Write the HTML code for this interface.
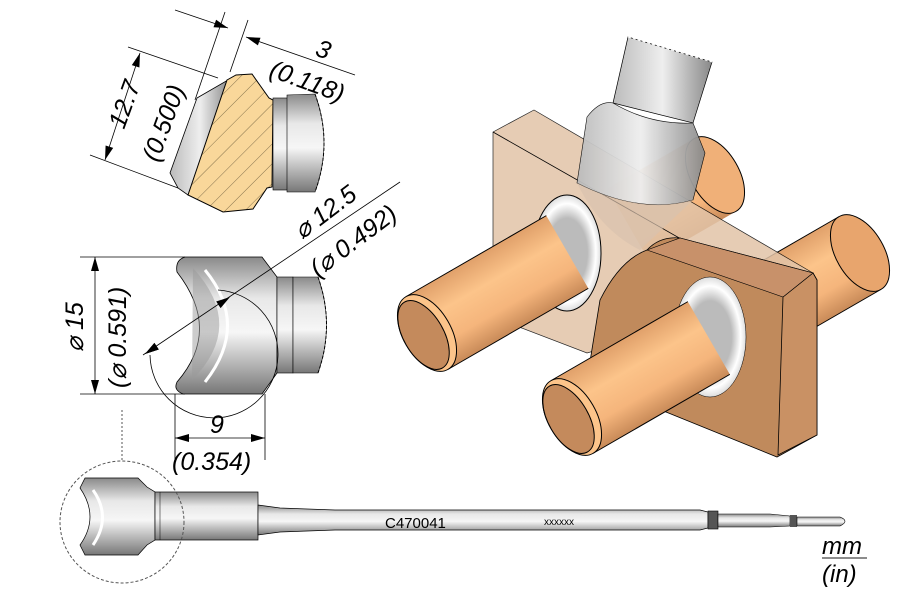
<!DOCTYPE html>
<html><head><meta charset="utf-8"><style>
html,body{margin:0;padding:0;background:#fff;width:900px;height:600px;overflow:hidden}
svg{display:block}
text{font-family:"Liberation Sans",Arial,sans-serif;font-style:italic;fill:#000}
</style></head><body>
<svg width="900" height="600" viewBox="0 0 900 600" xmlns="http://www.w3.org/2000/svg">
<defs>
<linearGradient id="gv" x1="0" y1="0" x2="0" y2="1">
<stop offset="0" stop-color="#8a8a8a"/><stop offset="0.3" stop-color="#e8e8e8"/><stop offset="0.55" stop-color="#f6f6f6"/><stop offset="1" stop-color="#777"/></linearGradient>
<linearGradient id="gh" x1="0" y1="0" x2="1" y2="0">
<stop offset="0" stop-color="#bbb"/><stop offset="0.5" stop-color="#eee"/><stop offset="1" stop-color="#888"/></linearGradient>
<linearGradient id="cu" x1="0" y1="0" x2="0" y2="1">
<stop offset="0" stop-color="#e0a06a"/><stop offset="0.35" stop-color="#fcc48a"/><stop offset="0.7" stop-color="#f5b57c"/><stop offset="1" stop-color="#c88a58"/></linearGradient>
<radialGradient id="ring" cx="0.5" cy="0.5" r="0.5">
<stop offset="0.6" stop-color="#bbb"/><stop offset="0.85" stop-color="#fff"/><stop offset="1" stop-color="#ddd"/></radialGradient>
<pattern id="hatch" width="14" height="14" patternUnits="userSpaceOnUse" patternTransform="rotate(45)">
<rect width="14" height="14" fill="#f9d79a"/><line x1="0" y1="0" x2="0" y2="14" stroke="#6a5a3a" stroke-width="0.8"/></pattern>
</defs>

<!-- TOP SECTION VIEW -->
<g stroke="#000" stroke-width="0.8" fill="none">
<line x1="128" y1="47" x2="218" y2="78"/>
<line x1="90" y1="155" x2="178" y2="188"/>
<line x1="140" y1="53" x2="105" y2="160"/>
<line x1="225" y1="12" x2="195" y2="100"/>
<line x1="248" y1="20" x2="230" y2="72"/>
<line x1="175" y1="10" x2="228" y2="28"/>
<line x1="355" y1="75" x2="246" y2="37"/>
</g>
<g fill="#000">
<polygon points="105,160 113.2,147.9 105.6,145.5"/>
<polygon points="140,53 139.4,67.5 131.8,65.1"/>
<polygon points="228,28 213.5,27.3 216.1,19.7"/>
<polygon points="246,37 260.5,37.8 257.9,45.4"/>
<polygon points="95,257 91,271 99,271"/>
<polygon points="95,394 91,380 99,380"/>
<polygon points="175,438 189,434 189,442"/>
<polygon points="265,438 251,434 251,442"/>
<polygon points="230,297 220.6,308.1 216.2,301.5"/>
<polygon points="145,354 158.8,349.5 154.4,342.9"/>
</g>
<text transform="translate(124,130) rotate(-70)" font-size="25">12.7</text>
<text transform="translate(158,163) rotate(-70)" font-size="25">(0.500)</text>
<text transform="translate(314,55) rotate(20)" font-size="25">3</text>
<text transform="translate(268,76) rotate(20)" font-size="25">(0.118)</text>
<path d="M197,98 L228,80 L230,82 L188,195 L178,188 L170,173 Z" fill="url(#gh)" stroke="#000" stroke-width="0.8"/>
<path d="M227,80 L236,75 L252,74 L269,98 L273,100 L272,187 L267,188 L253,209 L223,212 L188,195 Z" fill="url(#hatch)" stroke="#000" stroke-width="1"/>
<rect x="273" y="98" width="15" height="92" fill="url(#gv)" stroke="#000" stroke-width="0.6"/>
<path d="M287,95 L315,94 Q333,143 315,192 L287,192 Z" fill="url(#gv)" stroke="#000" stroke-width="0.6"/>
<path d="M315,94 Q333,143 315,192" fill="none" stroke="#000" stroke-dasharray="3,2"/>

<!-- MIDDLE VIEW -->
<g stroke="#000" stroke-width="0.8" fill="none">
<line x1="80" y1="257" x2="185" y2="257"/>
<line x1="80" y1="394" x2="185" y2="394"/>
<line x1="95" y1="257" x2="95" y2="394"/>
<line x1="175" y1="394" x2="175" y2="460"/>
<line x1="265" y1="394" x2="265" y2="460"/>
<line x1="175" y1="438" x2="265" y2="438"/>
</g>
<path d="M185,257 L262,257 L277,277 L277,373 L262,394 L183,394 Q173,390 177,382 Q222,330 177,272 Q175,260 185,257 Z" fill="url(#gv)" stroke="#000" stroke-width="0.8"/>
<path d="M193,268 Q246,326 192,380" fill="#9a9a9a" stroke="none" opacity="0.5"/>
<path d="M205,270 Q250,325 205,382" fill="none" stroke="#fff" stroke-width="3"/>
<rect x="277" y="277" width="16" height="96" fill="url(#gv)" stroke="#000" stroke-width="0.6"/>
<path d="M293,277 L318,277 Q335,325 318,373 L293,373 Z" fill="url(#gv)" stroke="#000" stroke-width="0.6"/>
<path d="M318,277 Q335,325 318,373" fill="none" stroke="#000" stroke-dasharray="3,2"/>
<path d="M150,355 A64,64 0 1 0 218,290" fill="none" stroke="#000" stroke-width="0.8"/>
<line x1="143" y1="355" x2="400" y2="182" stroke="#000" stroke-width="0.8"/>
<g fill="#000">
<polygon points="230,297 220.6,308.1 216.2,301.5"/>
<polygon points="145,354 158.8,349.5 154.4,342.9"/>
</g>
<text transform="translate(83,352) rotate(-90)" font-size="25">⌀ 15</text>
<text transform="translate(126,388) rotate(-90)" font-size="25">(⌀ 0.591)</text>
<text transform="translate(302,240) rotate(-37)" font-size="25">⌀ 12.5</text>
<text transform="translate(318,278) rotate(-37)" font-size="25">(⌀ 0.492)</text>
<text x="210" y="433" font-size="25">9</text>
<text x="172" y="470" font-size="25">(0.354)</text>

<!-- 3D VIEW -->
<g transform="translate(860,253) rotate(-30)">
<rect x="-90" y="-42" width="90" height="84" fill="url(#cu)"/>
<ellipse cx="0" cy="0" rx="24" ry="42" fill="#e8a56d" stroke="#000"/>
<line x1="-90" y1="-42" x2="0" y2="-42" stroke="#000"/><line x1="-90" y1="42" x2="0" y2="42" stroke="#000"/>
</g>
<g transform="translate(715,175) rotate(-30)">
<rect x="-100" y="-42" width="100" height="84" fill="url(#cu)"/>
<ellipse cx="0" cy="0" rx="24" ry="42" fill="#f0b078" stroke="#000"/>
</g>
<path d="M493,132 L534,110 L813,273 L783,297 L587,353 L493,317 Z" fill="#e2c4a8" opacity="0.85" stroke="#000" stroke-width="0.7"/>
<line x1="493" y1="132" x2="783" y2="297" stroke="#000" stroke-width="0.8"/>
<path d="M628,37 L712,62 L693,123 L613,103 Z" fill="url(#gh)" stroke="#000" stroke-width="0.7"/>
<path d="M628,37 L712,62" stroke="#fff" stroke-dasharray="3,2"/>
<path d="M613,103 Q650,125 693,123 L705,153 L693,200 Q640,215 577,183 L587,117 Q600,100 613,103 Z" fill="url(#gh)" stroke="#000" stroke-width="0.6" opacity="0.95"/>
<path d="M577,183 Q640,215 693,200 L640,250 Q600,230 577,183 Z" fill="#d8c2ae" opacity="0.7"/>
<ellipse cx="567" cy="253" rx="34" ry="58" fill="url(#ring)" stroke="#000"/>
<g transform="translate(427,333) rotate(-30)">
<rect x="0" y="-42" width="162" height="84" fill="url(#cu)"/>
<line x1="0" y1="-42" x2="162" y2="-42" stroke="#000"/><line x1="0" y1="42" x2="162" y2="42" stroke="#000"/>
<ellipse cx="0" cy="0" rx="24" ry="42" fill="#fcc48a" stroke="#000"/>
<ellipse cx="-4" cy="0" rx="20" ry="38" fill="#c48a5c" stroke="#000"/>
</g>
<path d="M647,250 Q660,236 680,238 L813,273 L817,280 L817,435 L777,457 L587,380 L600,300 Q620,260 647,250 Z" fill="#c08a5c" stroke="#000" stroke-width="0.8"/>
<path d="M783,297 L813,273 L817,280 L817,435 L778,455 Z" fill="#c99164" stroke="#000" stroke-width="0.8"/>
<path d="M680,238 L813,273 L783,297 L647,250 Z" fill="#c8916a" stroke="#000" stroke-width="0.6"/>
<ellipse cx="710" cy="337" rx="36" ry="60" fill="url(#ring)" stroke="#000" stroke-width="0.5"/>
<g transform="translate(572,417) rotate(-30)">
<rect x="0" y="-42" width="158" height="84" fill="url(#cu)"/>
<line x1="0" y1="-42" x2="158" y2="-42" stroke="#000"/><line x1="0" y1="42" x2="158" y2="42" stroke="#000"/>
<ellipse cx="0" cy="0" rx="24" ry="42" fill="#fcc48a" stroke="#000"/>
<ellipse cx="-4" cy="0" rx="20" ry="38" fill="#c48a5c" stroke="#000"/>
</g>

<!-- BOTTOM TOOL -->
<line x1="122" y1="410" x2="122" y2="462" stroke="#555" stroke-dasharray="2,2"/>
<path d="M85,478 L138,478 L147,487 L155,492 L155,540 L147,545 L138,555 L85,555 L80,545 Q100,517 80,488 Z" fill="url(#gv)" stroke="#000" stroke-width="0.7"/>
<path d="M93,490 Q112,517 93,545" fill="none" stroke="#fff" stroke-width="3"/>
<rect x="155" y="492" width="103" height="48" fill="url(#gv)" stroke="#000" stroke-width="0.7"/>
<line x1="160" y1="492" x2="160" y2="540" stroke="#000" stroke-width="0.5"/>
<path d="M258,505 L280,508 L335,510 L700,510 L708,512 L708,528 L700,530 L335,530 L280,532 L258,535 Z" fill="url(#gv)" stroke="#000" stroke-width="0.7"/>
<rect x="708" y="511" width="10" height="18" fill="#555" stroke="#000" stroke-width="0.6"/>
<path d="M718,514 L770,514 L790,516 L790,526 L770,527 L718,527 Z" fill="url(#gv)" stroke="#000" stroke-width="0.6"/>
<rect x="790" y="515" width="7" height="12" fill="#555"/>
<path d="M797,517 L840,517 Q850,521 840,526 L797,526 Z" fill="url(#gv)" stroke="#000" stroke-width="0.6"/>
<ellipse cx="122" cy="522" rx="62" ry="61" fill="none" stroke="#555" stroke-dasharray="3,2"/>
<text x="385" y="528" font-size="15" style="font-style:normal">C470041</text>
<text x="544" y="525" font-size="10" style="font-style:normal">xxxxxx</text>
<text x="822" y="554" font-size="24">mm</text>
<line x1="822" y1="558" x2="867" y2="558" stroke="#666" stroke-width="1.5"/>
<text x="822" y="582" font-size="24">(in)</text>
</svg>
</body></html>
